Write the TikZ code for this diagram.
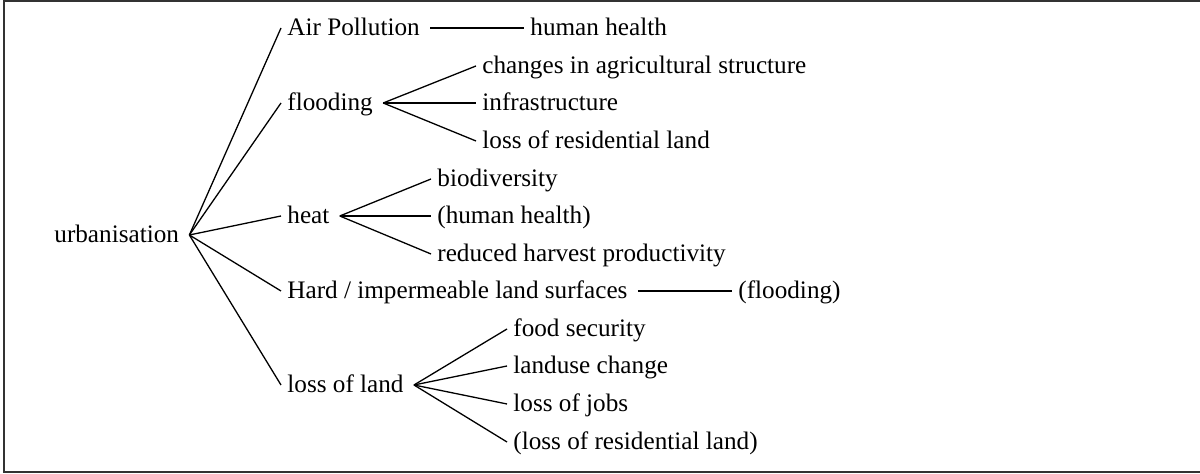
\documentclass[tikz,border=0pt]{standalone}
\usepackage{fontspec}
\setmainfont{Liberation Serif}
\usepackage{tikz}
\usetikzlibrary{positioning}

\begin{document}
\begin{tikzpicture}[
  x=0.5pt, y=-0.5pt,
  item/.style={anchor=west, inner xsep=3pt, inner ysep=0pt,
    text height=0.9em, text depth=0.15em,
    font=\fontsize{12.6}{15}\selectfont},
  edge/.style={line width=0.65pt, black},
]
  \useasboundingbox (0,0) rectangle (1200,474);
  % Frame (open on the right)
  \draw[line width=1pt, black!80] (1210,1.5) -- (4,1.5) -- (4,472.5) -- (1210,472.5);

  % Root
  \node[item] (urb) at (48,235) {urbanisation};

  % First level
  \node[item] (air) at (281,28) {Air Pollution};
  \node[item] (flood) at (281,103) {flooding};
  \node[item] (heat) at (281,216) {heat};
  \node[item] (hard) at (281,291) {Hard / impermeable land surfaces};
  \node[item] (lossland) at (281,385) {loss of land};
  \foreach \t in {air,flood,heat,hard,lossland}
    \draw[edge] ([xshift=2pt]urb.east) -- (\t.west);

  % Air pollution
  \node[item] (hh) at (524,28) {human health};
  \draw[edge] ([xshift=2pt]air.east) -- (hh.west);

  % Flooding
  \node[item] (agri) at (476,66) {changes in agricultural structure};
  \node[item] (infra) at (476,103) {infrastructure};
  \node[item] (resid) at (476,141) {loss of residential land};
  \foreach \t in {agri,infra,resid}
    \draw[edge] ([xshift=2pt]flood.east) -- (\t.west);

  % Heat
  \node[item] (bio) at (431,179) {biodiversity};
  \node[item] (hhb) at (431,216) {(human health)};
  \node[item] (harvest) at (431,254) {reduced harvest productivity};
  \foreach \t in {bio,hhb,harvest}
    \draw[edge] ([xshift=2pt]heat.east) -- (\t.west);

  % Hard surfaces
  \node[item] (floodb) at (732,291) {(flooding)};
  \draw[edge] ([xshift=2pt]hard.east) -- (floodb.west);

  % Loss of land
  \node[item] (food) at (507,329) {food security};
  \node[item] (landuse) at (507,366) {landuse change};
  \node[item] (jobs) at (507,404) {loss of jobs};
  \node[item] (residb) at (507,442) {(loss of residential land)};
  \foreach \t in {food,landuse,jobs,residb}
    \draw[edge] ([xshift=2pt]lossland.east) -- (\t.west);
\end{tikzpicture}
\end{document}
